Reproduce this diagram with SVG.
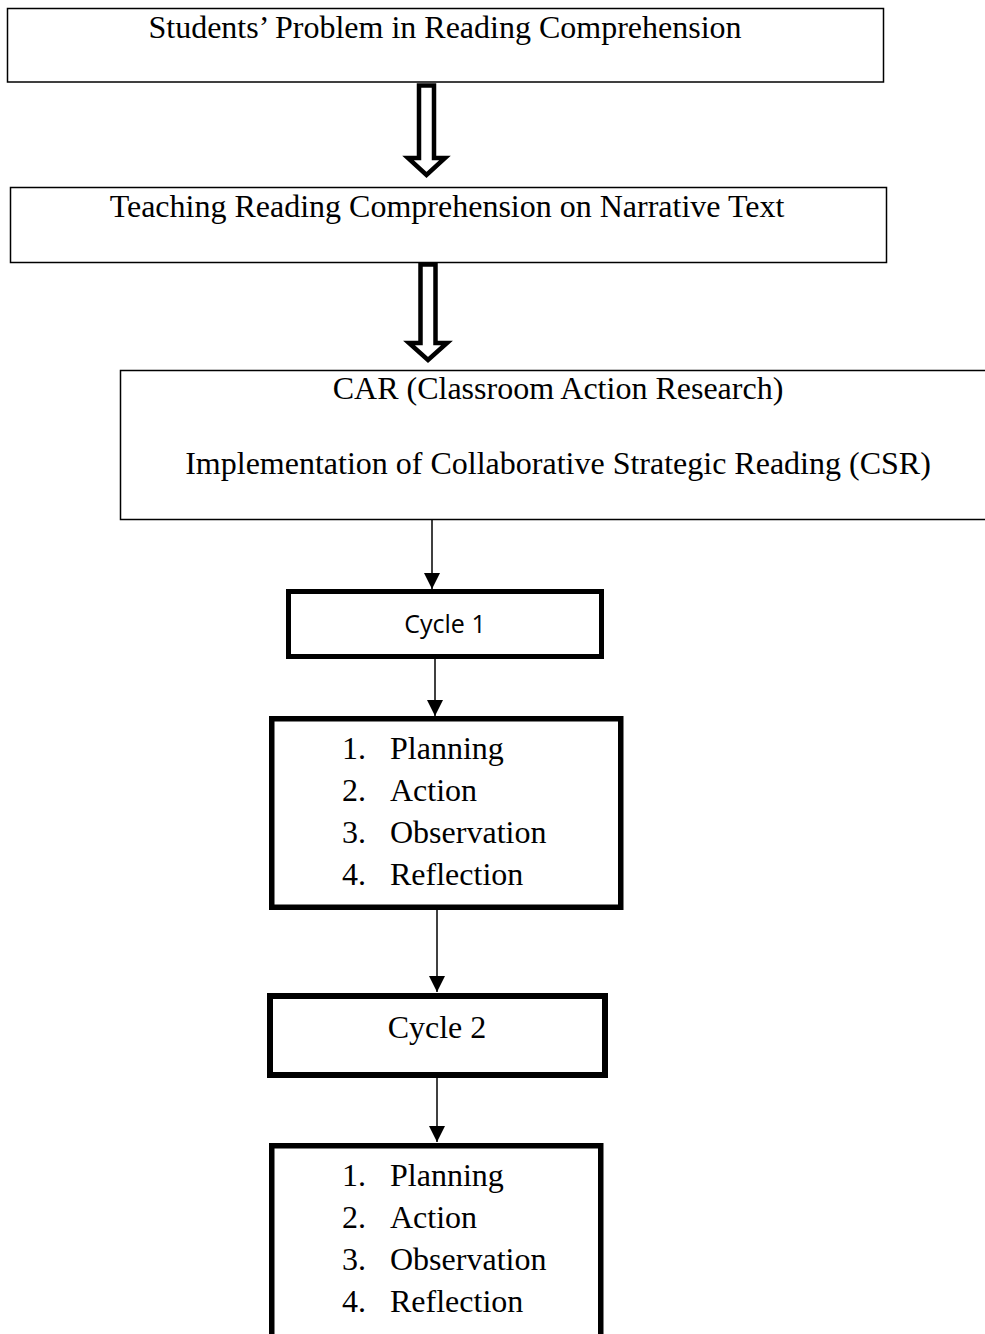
<svg xmlns="http://www.w3.org/2000/svg" width="985" height="1334" viewBox="0 0 985 1334">
<defs>
<marker id="ah" markerWidth="16" markerHeight="16" refX="16" refY="8" orient="auto" markerUnits="userSpaceOnUse">
<path d="M0,0 L16,8 L0,16 Z" fill="#000"/>
</marker>
<style>
.t{font-family:"Liberation Serif","Times New Roman",serif;font-size:32px;fill:#000}
.s{font-family:"Open Sans","Liberation Sans",sans-serif;font-size:25px;fill:#000}
.thin{fill:#fff;stroke:#000;stroke-width:1.5}
.thick{fill:#fff;stroke:#000;stroke-width:5.5}
.hollow{fill:#fff;stroke:#000;stroke-width:4.5;stroke-linejoin:miter}
.ln{stroke:#000;stroke-width:1.5;fill:none}
</style>
</defs>
<rect width="985" height="1334" fill="#fff"/>
<g id="connectors">
<polygon class="hollow" points="419,85.5 434,85.5 434,158 445,158 426.5,175 408,158 419,158"/>
<polygon class="hollow" points="420.5,264.5 435.5,264.5 435.5,343 447,343 428,360 409,343 420.5,343"/>
<line class="ln" x1="432" y1="520" x2="432" y2="589" marker-end="url(#ah)"/>
<line class="ln" x1="435" y1="659" x2="435" y2="716" marker-end="url(#ah)"/>
<line class="ln" x1="437" y1="910" x2="437" y2="992" marker-end="url(#ah)"/>
<line class="ln" x1="437" y1="1078" x2="437" y2="1142" marker-end="url(#ah)"/>
</g>
<g id="n1">
<rect class="thin" x="7.5" y="8.5" width="876" height="73.5"/>
<text class="t" x="445" y="38" text-anchor="middle">Students’ Problem in Reading Comprehension</text>
</g>
<g id="n2">
<rect class="thin" x="10.5" y="187.5" width="876" height="75"/>
<text class="t" x="447" y="217" text-anchor="middle">Teaching Reading Comprehension on Narrative Text</text>
</g>
<g id="n3">
<rect class="thin" x="120.5" y="370.5" width="880" height="149"/>
<text class="t" x="558" y="399" text-anchor="middle">CAR (Classroom Action Research)</text>
<text class="t" x="558" y="474" text-anchor="middle">Implementation of Collaborative Strategic Reading (CSR)</text>
</g>
<g id="n4">
<rect class="thick" x="288.5" y="591.5" width="313" height="65" style="stroke-width:5"/>
<text class="s" x="445" y="633" text-anchor="middle">Cycle 1</text>
</g>
<g id="n5">
<rect class="thick" x="271.75" y="718.75" width="349" height="188.5"/>
<text class="t"><tspan x="342" y="759">1.</tspan><tspan x="390" y="759">Planning</tspan><tspan x="342" y="801">2.</tspan><tspan x="390" y="801">Action</tspan><tspan x="342" y="843">3.</tspan><tspan x="390" y="843">Observation</tspan><tspan x="342" y="885">4.</tspan><tspan x="390" y="885">Reflection</tspan></text>
</g>
<g id="n6">
<rect class="thick" x="270" y="996" width="335" height="79" style="stroke-width:6"/>
<text class="t" x="437" y="1038" text-anchor="middle">Cycle 2</text>
</g>
<g id="n7">
<rect class="thick" x="271.75" y="1145.75" width="329" height="220"/>
<text class="t"><tspan x="342" y="1186">1.</tspan><tspan x="390" y="1186">Planning</tspan><tspan x="342" y="1228">2.</tspan><tspan x="390" y="1228">Action</tspan><tspan x="342" y="1270">3.</tspan><tspan x="390" y="1270">Observation</tspan><tspan x="342" y="1312">4.</tspan><tspan x="390" y="1312">Reflection</tspan></text>
</g>
</svg>
